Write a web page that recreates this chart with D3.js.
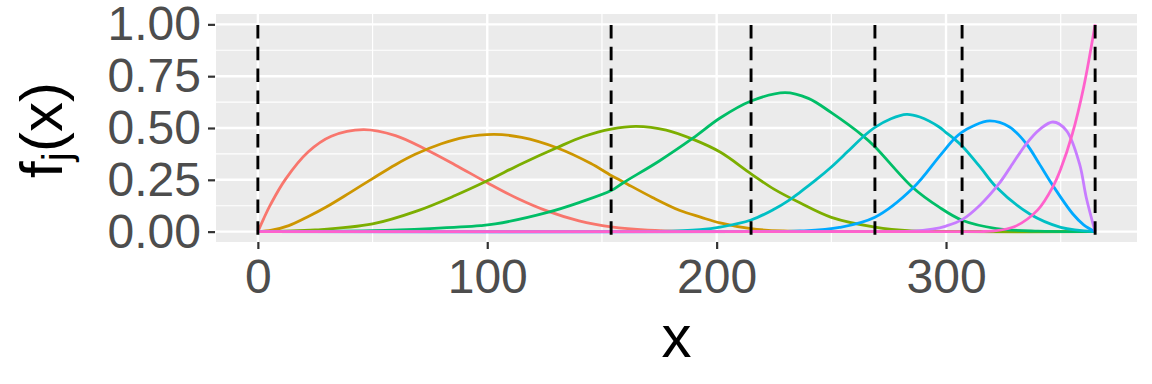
<!DOCTYPE html>
<meta charset="utf-8">
<style>
body { margin: 0; background: #fff; }
text { font-family: "Liberation Sans", Arial, sans-serif; }
.tick text { fill: #4d4d4d; font-size: 48px; }
.tick line { stroke: #333; stroke-width: 2.2px; }
</style>
<svg width="1152" height="384"></svg>
<script src="https://d3js.org/d3.v7.min.js"></script>
<script>

// knot positions (dashed lines)
var knots = [0, 154, 215, 269, 307, 365];

// basis curves, [x, f(x)]
var f1 = [[0,0],[2.5,0.062],[5.5,0.13],[12,0.252],[22,0.385],[32,0.46],[46,0.492],[60,0.463],[73.7,0.394],[86,0.322],[100,0.236],[113,0.161],[126,0.10],[140,0.052],[154,0.023],[170,0.007],[190,0.001],[215,0],[365,0]];
var f2 = [[0,0],[6,0.007],[13.5,0.029],[22,0.073],[30,0.12],[40,0.187],[50,0.256],[60,0.323],[68.6,0.373],[80,0.424],[90,0.455],[103,0.469],[115,0.455],[130.3,0.405],[145,0.33],[154,0.271],[159.3,0.24],[172,0.165],[184,0.102],[193,0.07],[201.5,0.042],[215,0.014],[229,0.003],[245,0.0003],[269,0],[365,0]];
var f3 = [[0,0],[25,0.008],[50,0.037],[69.5,0.10],[86,0.174],[100,0.245],[115,0.328],[130.3,0.405],[142,0.459],[154,0.495],[165,0.508],[178,0.49],[189.8,0.445],[201.5,0.384],[215,0.279],[225,0.205],[236.3,0.139],[250,0.069],[269,0.022],[285,0.004],[307,0],[365,0]];
var f4 = [[0,0],[50,0.005],[75,0.015],[97,0.029],[103.5,0.037],[126.7,0.094],[140,0.14],[154,0.198],[159.3,0.236],[175,0.341],[189.8,0.452],[201.5,0.548],[215,0.63],[229.8,0.671],[240,0.643],[250,0.574],[263.9,0.461],[269,0.41],[285.5,0.213],[297,0.118],[307,0.055],[322,0.015],[340,0.002],[365,0]];
var f5 = [[0,0],[154,0],[175,0.001],[192.8,0.01],[201.5,0.022],[215,0.056],[225,0.108],[231.3,0.15],[236.3,0.19],[243,0.247],[250,0.312],[257,0.385],[263.9,0.458],[269,0.503],[276,0.545],[282.8,0.566],[288.6,0.553],[297,0.505],[300,0.478],[303.8,0.445],[307,0.413],[315,0.31],[322,0.214],[336.5,0.085],[350,0.021],[365,0]];
var f6 = [[0,0],[215,0],[236.3,0.003],[253.6,0.02],[269,0.069],[285.6,0.21],[297.1,0.363],[303.8,0.45],[307,0.48],[311.8,0.51],[319.1,0.534],[327.7,0.505],[335,0.424],[340.5,0.33],[346.6,0.222],[355.3,0.085],[360,0.033],[365,0]];
var f7 = [[0,0],[269,0],[285,0.002],[294,0.012],[300,0.027],[307,0.058],[315,0.13],[323,0.23],[328,0.31],[335,0.424],[341,0.495],[346.6,0.529],[352.4,0.489],[358.2,0.327],[361.1,0.166],[365,0]];
var f8 = [[0,0],[307,0],[315,0.0004],[320,0.0025],[330,0.025],[340,0.105],[346.6,0.217],[350,0.302],[355,0.469],[360,0.697],[365,1]];

var curves = [f1, f2, f3, f4, f5, f6, f7, f8];
var palette = ["#F8766D", "#CD9600", "#7CAE00", "#00BE67", "#00BFC4", "#00A9FF", "#C77CFF", "#FF61CC"];

var xTicks = [0, 100, 200, 300],
    xMinor = [50, 150, 250, 350],
    yTicks = [0, 0.25, 0.5, 0.75, 1],
    yMinor = [0.125, 0.375, 0.625, 0.875];

var svg = d3.select("svg"),
    pLeft = 216, pRight = 1137, pTop = 14, pBottom = 242;

var x = d3.scaleLinear().domain([-18.25, 383.25]).range([pLeft, pRight]);
var y = d3.scaleLinear().domain([-0.05, 1.05]).range([pBottom, pTop]);

// panel
svg.append("rect")
    .attr("x", pLeft).attr("y", pTop)
    .attr("width", pRight - pLeft).attr("height", pBottom - pTop)
    .attr("fill", "#ebebeb");

var grid = svg.append("g").attr("stroke", "#fff");
grid.selectAll(".ymin").data(yMinor).enter().append("line")
    .attr("x1", pLeft).attr("x2", pRight)
    .attr("y1", function(d) { return y(d); }).attr("y2", function(d) { return y(d); })
    .attr("stroke-width", 1.2);
grid.selectAll(".xmin").data(xMinor).enter().append("line")
    .attr("y1", pTop).attr("y2", pBottom)
    .attr("x1", function(d) { return x(d); }).attr("x2", function(d) { return x(d); })
    .attr("stroke-width", 1.2);
grid.selectAll(".ymaj").data(yTicks).enter().append("line")
    .attr("x1", pLeft).attr("x2", pRight)
    .attr("y1", function(d) { return y(d); }).attr("y2", function(d) { return y(d); })
    .attr("stroke-width", 2.4);
grid.selectAll(".xmaj").data(xTicks).enter().append("line")
    .attr("y1", pTop).attr("y2", pBottom)
    .attr("x1", function(d) { return x(d); }).attr("x2", function(d) { return x(d); })
    .attr("stroke-width", 2.4);

// basis functions
var line = d3.line()
    .x(function(d) { return x(d[0]); })
    .y(function(d) { return y(d[1]); })
    .curve(d3.curveCatmullRom.alpha(0.5));

svg.append("g").selectAll("path")
    .data(curves)
  .enter().append("path")
    .attr("d", line)
    .attr("fill", "none")
    .attr("stroke", function(d, i) { return palette[i]; })
    .attr("stroke-width", 2.8);

// knots
svg.append("g").selectAll("line")
    .data(knots)
  .enter().append("line")
    .attr("x1", function(d) { return x(d); }).attr("x2", function(d) { return x(d); })
    .attr("y1", 25).attr("y2", pBottom)
    .attr("stroke", "#000")
    .attr("stroke-width", 2.9)
    .attr("stroke-dasharray", "13.5 8.3");

// axes
var xAxis = svg.append("g")
    .attr("transform", "translate(0," + pBottom + ")")
    .call(d3.axisBottom(x).tickValues(xTicks).tickSize(7).tickPadding(10));
var yAxis = svg.append("g")
    .attr("transform", "translate(" + (pLeft - 1) + ",0)")
    .call(d3.axisLeft(y).tickValues(yTicks).tickFormat(d3.format(".2f")).tickSize(7).tickPadding(7));
xAxis.select(".domain").remove();
yAxis.select(".domain").remove();
svg.selectAll(".tick text").attr("font-family", null).attr("font-size", null);

// axis titles
svg.append("text")
    .attr("x", (pLeft + pRight) / 2)
    .attr("y", 357)
    .attr("text-anchor", "middle")
    .attr("font-size", 60)
    .text("x");

var yt = svg.append("text")
    .attr("transform", "translate(62," + ((pTop + pBottom) / 2 + 2) + ") rotate(-90)")
    .attr("text-anchor", "middle")
    .attr("font-size", 60);
yt.append("tspan").text("f");
yt.append("tspan").attr("font-size", 41).attr("dy", 9).text("j");
yt.append("tspan").attr("dy", -9).text("(x)");

</script>
